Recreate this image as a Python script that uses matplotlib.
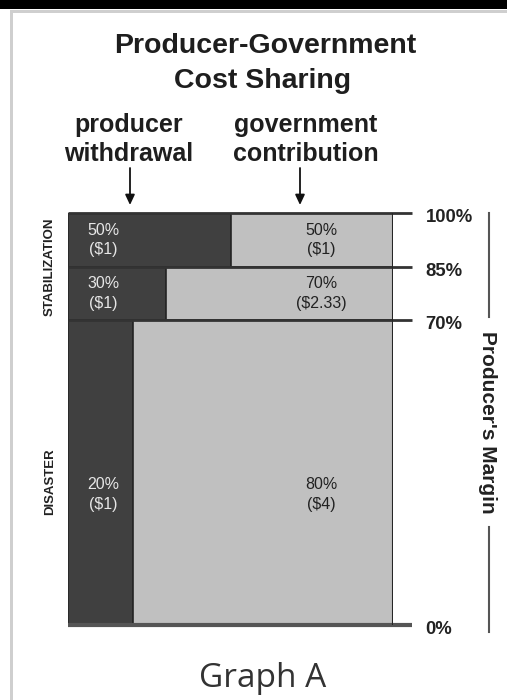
import numpy as np
import matplotlib
matplotlib.use("Agg")
import matplotlib.pyplot as plt
from matplotlib.patches import Rectangle, FancyArrowPatch
from matplotlib.lines import Line2D

# margin bands (percent of producer's margin), top to bottom
band_top = [100, 85, 70]
band_bottom = [85, 70, 0]
producer_pct = [50, 30, 20]
government_pct = [50, 70, 80]
producer_cost = ["$1", "$1", "$1"]
government_cost = ["$1", "$2.33", "$4"]
tick_levels = [0, 70, 85, 100]
tick_labels = ["0%", "70%", "85%", "100%"]
group_names = ["STABILIZATION", "DISASTER"]
group_mid = [85, 33]

# the original is not drawn to scale: each level sits at a fixed height
LEVELS = [0, 70, 85, 100]
LEVEL_PX = [0, 305, 358, 412]


def fwd(v):
    return np.interp(v, LEVELS, LEVEL_PX)


def inv(p):
    return np.interp(p, LEVEL_PX, LEVELS)


W, H = 507, 700
fig = plt.figure(figsize=(W / 100, H / 100), dpi=100)
fig.patch.set_facecolor("white")


def fx(px):
    return px / W


def fy(py):
    return 1 - py / H


# frame: black strip at top, light grey shadow border
fig.patches.append(Rectangle((0, fy(9)), 1, 9 / H, transform=fig.transFigure,
                             facecolor="black", edgecolor="none"))
fig.patches.append(Rectangle((fx(10), fy(13)), 1, 3 / H, transform=fig.transFigure,
                             facecolor="#cfcfcf", edgecolor="none"))
fig.patches.append(Rectangle((fx(10), 0), 3 / W, fy(10), transform=fig.transFigure,
                             facecolor="#cfcfcf", edgecolor="none"))

ax = fig.add_axes([fx(68), fy(625), 325 / W, 412 / H])
ax.set_yscale("function", functions=(fwd, inv))
ax.set_xlim(0, 100)
ax.set_ylim(0, 100)
ax.axis("off")

heights = [t - b for t, b in zip(band_top, band_bottom)]
ax.barh(band_bottom, producer_pct, height=heights, left=0, align="edge",
        color="#404040", edgecolor="#262626", linewidth=1.2)
ax.barh(band_bottom, government_pct, height=heights, left=producer_pct, align="edge",
        color="#c0c0c0", edgecolor="#262626", linewidth=1.2)

# level lines run past the right edge
ytr = ax.get_yaxis_transform()
ax.hlines(tick_levels[1:], 0, 1.058, transform=ytr, color="#333333", lw=2, clip_on=False)
ax.hlines(tick_levels[0], 0, 1.058, transform=ytr, color="#555555", lw=3, clip_on=False)
ax.vlines(100, 0, 100, color="#262626", lw=1.5)

for lv, lab in zip(tick_levels, tick_labels):
    ax.annotate(lab, (1.1, lv), xycoords=ytr, xytext=(0, -4), textcoords="offset pixels",
                ha="left", va="center", fontsize=13.3, fontweight="bold",
                family="Liberation Sans", color="#222222", annotation_clip=False)

label_y = [92.5, 77.5, 30]
for y, p, g, pc, gc in zip(label_y, producer_pct, government_pct, producer_cost, government_cost):
    ax.text(10.8, y, f"{p}%\n({pc})", ha="center", va="center", fontsize=11.5,
            family="Liberation Sans", color="#e6e6e6", linespacing=1.4)
    ax.text(78, y, f"{g}%\n({gc})", ha="center", va="center", fontsize=11.5,
            family="Liberation Sans", color="#222222", linespacing=1.4)

for name, mid in zip(group_names, group_mid):
    ax.text(-0.055, mid, name, transform=ytr, rotation=90, ha="center", va="center",
            fontsize=9.5, family="Liberation Sans", fontweight="bold", color="#222222")

# title and column headings
fig.text(fx(265), fy(53), "Producer-Government", ha="center", va="baseline",
         fontsize=20.5, fontweight="bold", family="Liberation Sans", color="#1e1e1e")
fig.text(fx(263), fy(88), "Cost Sharing", ha="center", va="baseline",
         fontsize=20.5, fontweight="bold", family="Liberation Sans", color="#1e1e1e")

for cx, l1, l2 in [(129, "producer", "withdrawal"), (306, "government", "contribution")]:
    fig.text(fx(cx), fy(132), l1, ha="center", va="baseline", fontsize=18,
             fontweight="bold", family="Liberation Sans", color="#1e1e1e")
    fig.text(fx(cx), fy(161), l2, ha="center", va="baseline", fontsize=18,
             fontweight="bold", family="Liberation Sans", color="#1e1e1e")

for cx in [130, 300]:
    fig.add_artist(FancyArrowPatch(
        (fx(cx), fy(168)), (fx(cx), fy(205)), transform=fig.transFigure,
        arrowstyle="-|>,head_length=6,head_width=2.8", color="#111111", lw=1.3,
        shrinkA=0, shrinkB=0))

# producer's margin bracket
fig.text(fx(488), fy(422), "Producer's Margin", rotation=-90, ha="center", va="center",
         fontsize=15, fontweight="bold", family="Liberation Sans", color="#222222")
fig.add_artist(Line2D([fx(489), fx(489)], [fy(213), fy(317)], color="#555555", lw=1.5))
fig.add_artist(Line2D([fx(489), fx(489)], [fy(527), fy(632)], color="#555555", lw=1.5))

fig.text(fx(263), fy(687), "Graph A", ha="center", va="baseline",
         fontsize=24, family="Open Sans", color="#333333")

fig.savefig("out.png", dpi=100, facecolor="white")
